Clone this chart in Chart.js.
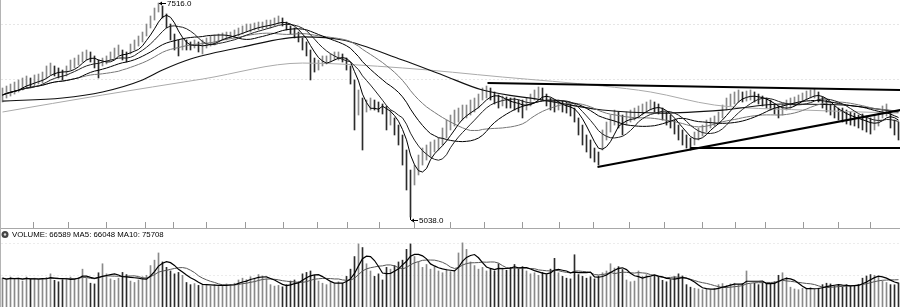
<!DOCTYPE html>
<html>
<head>
<meta charset="utf-8">
<script src="https://cdn.jsdelivr.net/npm/chart.js@4.4.1/dist/chart.umd.min.js"></script>
<style>
  html, body { margin: 0; padding: 0; background: #fff; }
  #wrap { position: relative; width: 900px; height: 307px; overflow: hidden; }
  #price { position: absolute; left: 0; top: 0; }
  #volume { position: absolute; left: 0; top: 222px; }
</style>
</head>
<body>
<div id="wrap">
  <canvas id="price" width="900" height="228"></canvas>
  <canvas id="volume" width="900" height="85"></canvas>
</div>
<script>
// daily bars
const highs = [
  6532, 6555, 6578, 6601, 6625, 6648, 6671, 6648, 6683, 6694,
  6717, 6787, 6821, 6787, 6764, 6740, 6787, 6856, 6879, 6914,
  6949, 6972, 6949, 6903, 6856, 6879, 6903, 6949, 6995, 7030,
  6972, 6949, 7041, 7088, 7134, 7180, 7273, 7366, 7458, 7516,
  7482, 7389, 7273, 7157, 7088, 7111, 7088, 7065, 7088, 7065,
  7088, 7111, 7134, 7146, 7157, 7169, 7180, 7180, 7204, 7227,
  7250, 7273, 7273, 7285, 7296, 7296, 7319, 7319, 7343, 7366,
  7343, 7296, 7250, 7227, 7180, 7111, 7065, 6972, 6879, 6856,
  6903, 6903, 6926, 6949, 6949, 6926, 6879, 6787, 6625, 6509,
  6416, 6393, 6416, 6393, 6370, 6347, 6324, 6277, 6185, 6103,
  5988, 5814, 5582, 5640, 5756, 5837, 5872, 5907, 5930, 5953,
  6069, 6161, 6219, 6277, 6300, 6335, 6335, 6393, 6416, 6462,
  6532, 6555, 6532, 6486, 6451, 6439, 6428, 6416, 6416, 6393,
  6393, 6416, 6462, 6509, 6544, 6532, 6462, 6416, 6393, 6393,
  6381, 6370, 6347, 6300, 6185, 6103, 5988, 5930, 5837, 5791,
  6046, 6138, 6219, 6277, 6254, 6219, 6254, 6277, 6300, 6324,
  6347, 6370, 6393, 6370, 6347, 6300, 6254, 6219, 6161, 6103,
  6046, 5988, 5953, 6022, 6069, 6103, 6161, 6185, 6208, 6254,
  6335, 6416, 6462, 6486, 6509, 6486, 6497, 6509, 6486, 6462,
  6439, 6416, 6393, 6347, 6324, 6347, 6393, 6416, 6428, 6451,
  6474, 6497, 6509, 6520, 6486, 6428, 6393, 6347, 6324, 6300,
  6300, 6277, 6254, 6242, 6219, 6231, 6208, 6185, 6219, 6254,
  6324, 6347, 6254, 6161, 6138
];
const lows = [
  6370, 6416, 6439, 6462, 6486, 6509, 6532, 6532, 6555, 6578,
  6590, 6648, 6683, 6671, 6648, 6625, 6671, 6740, 6764, 6798,
  6833, 6856, 6833, 6764, 6648, 6787, 6810, 6856, 6879, 6914,
  6856, 6833, 6926, 6972, 7018, 7065, 7134, 7227, 7319, 7412,
  7343, 7227, 7088, 6972, 6903, 6972, 6972, 6972, 6995, 6949,
  6926, 6995, 7018, 7030, 7065, 7088, 7088, 7111, 7111, 7134,
  7157, 7180, 7180, 7204, 7204, 7215, 7227, 7227, 7250, 7273,
  7250, 7204, 7157, 7111, 7065, 6972, 6903, 6625, 6717, 6740,
  6787, 6810, 6833, 6856, 6856, 6833, 6740, 6578, 6046, 6219,
  5814, 6254, 6277, 6277, 6254, 6231, 6046, 6103, 5988, 5872,
  5640, 5351, 5038, 5409, 5525, 5640, 5698, 5733, 5791, 5814,
  5872, 5953, 6046, 6092, 6138, 6161, 6185, 6219, 6254, 6300,
  6393, 6416, 6393, 6347, 6300, 6324, 6300, 6300, 6277, 6254,
  6185, 6277, 6324, 6393, 6416, 6393, 6324, 6277, 6254, 6277,
  6254, 6242, 6208, 6138, 5988, 5872, 5791, 5721, 5675, 5640,
  5814, 5930, 6022, 6103, 6069, 5988, 6103, 6138, 6161, 6185,
  6219, 6254, 6277, 6254, 6231, 6161, 6103, 6069, 5999, 5930,
  5872, 5837, 5814, 5872, 5930, 5976, 6022, 6069, 6092, 6115,
  6185, 6277, 6324, 6347, 6370, 6370, 6381, 6393, 6370, 6347,
  6324, 6300, 6277, 6231, 6185, 6219, 6277, 6300, 6324, 6347,
  6370, 6393, 6416, 6416, 6370, 6300, 6254, 6219, 6185, 6161,
  6138, 6115, 6103, 6092, 6069, 6046, 6022, 5999, 6046, 6092,
  6185, 6208, 6069, 5988, 5930
];
const volumes = [
  80000, 75000, 83000, 78000, 80000, 72000, 83000, 77000, 80000, 75000,
  78000, 82000, 92000, 74000, 70000, 76000, 80000, 83000, 78000, 82000,
  105000, 80000, 66000, 64000, 95000, 120000, 92000, 78000, 74000, 80000,
  96000, 90000, 72000, 68000, 75000, 84000, 88000, 115000, 130000, 150000,
  125000, 110000, 100000, 92000, 96000, 88000, 68000, 62000, 65000, 60000,
  60000, 63000, 58000, 62000, 57000, 60000, 64000, 62000, 66000, 75000,
  80000, 76000, 84000, 80000, 90000, 86000, 78000, 62000, 58000, 60000,
  56000, 62000, 72000, 75000, 70000, 92000, 96000, 100000, 88000, 72000,
  66000, 62000, 68000, 64000, 70000, 66000, 85000, 105000, 140000, 175000,
  165000, 120000, 100000, 85000, 92000, 75000, 110000, 105000, 115000, 125000,
  130000, 160000, 175000, 140000, 125000, 110000, 118000, 105000, 112000, 100000,
  95000, 105000, 98000, 102000, 150000, 178000, 160000, 125000, 115000, 105000,
  110000, 100000, 105000, 100000, 120000, 108000, 102000, 110000, 118000, 105000,
  112000, 100000, 92000, 95000, 88000, 96000, 90000, 105000, 135000, 95000,
  85000, 80000, 78000, 145000, 90000, 85000, 80000, 84000, 78000, 86000,
  95000, 100000, 120000, 108000, 112000, 104000, 75000, 70000, 72000, 100000,
  85000, 90000, 82000, 88000, 84000, 74000, 70000, 76000, 84000, 92000,
  86000, 62000, 55000, 52000, 50000, 48000, 50000, 47000, 52000, 62000,
  65000, 60000, 64000, 66000, 62000, 65000, 100000, 64000, 66000, 62000,
  68000, 65000, 63000, 70000, 88000, 95000, 82000, 55000, 50000, 48000,
  52000, 50000, 54000, 49000, 52000, 62000, 66000, 64000, 58000, 60000,
  56000, 62000, 58000, 60000, 63000, 80000, 86000, 90000, 88000, 82840,
  72000, 68000, 62000, 61651, 66589
];

// month separators on the time axis (bar index units)
const monthTicks = [12, 20.75, 31.25, 40, 45.5, 56.5, 65, 75.5, 82, 90.25, 98.25, 107.5,
  116.25, 124.5, 135.25, 143.25, 152.25, 161, 169.75, 180, 186.25, 195, 205.25, 212.75, 221.25];

// long averages, read as [bar index, price]
const ma60Points = [[0, 6381], [15, 6416], [25, 6486], [35, 6625], [40, 6740], [47, 6868],
  [60, 7007], [75, 7123], [85, 7088], [100, 6856], [110, 6683], [120, 6509], [135, 6393],
  [150, 6277], [165, 6242], [180, 6277], [195, 6347], [210, 6335], [224, 6254]];
const ma250Points = [[0, 6254], [25, 6451], [50, 6636], [75, 6821], [100, 6764], [125, 6659],
  [150, 6555], [162, 6486], [178, 6335], [200, 6277], [224, 6242]];

// hand drawn trend lines [bar index, price]
const resistance = [[121.25, 6590], [224.5, 6509]];
const support = [[148.75, 5617], [224.5, 6277]];
const floorLine = [[172, 5837], [224.5, 5837]];

const gridPrices = [7273, 6625];
const gridVolumes = [88800, 177600];

const PRICE_MIN = 4911;
const PRICE_MAX = 7551;
const VOL_MAX = 219225;
const FONT = '"Liberation Sans", Arial, sans-serif';

const mids = highs.map((h, i) => (h + lows[i]) / 2);

function sma(arr, n) {
  return arr.map((_, i) => {
    const w = arr.slice(Math.max(0, i - n + 1), i + 1);
    return w.reduce((a, b) => a + b, 0) / w.length;
  });
}

const toPoints = (arr) => arr.map((v, i) => ({ x: i, y: v }));
const fromPairs = (arr) => arr.map(([x, y]) => ({ x, y }));
const barColors = mids.map((m, i) => (i === 0 || m >= mids[i - 1] ? '#8a8a8a' : '#2c2c2c'));

function line(data, color, width, extra = {}) {
  return {
    type: 'line',
    data,
    borderColor: color,
    borderWidth: width,
    pointRadius: 0,
    fill: false,
    order: 1,
    ...extra,
  };
}

const volMa5 = sma(volumes, 5);
const volMa10 = sma(volumes, 10);

const extremeLabels = {
  id: 'extremeLabels',
  afterDatasetsDraw(chart) {
    const { ctx, scales: { x, y } } = chart;
    const iMax = highs.indexOf(Math.max(...highs));
    const iMin = lows.indexOf(Math.min(...lows));
    ctx.save();
    ctx.strokeStyle = '#000';
    ctx.fillStyle = '#000';
    ctx.lineWidth = 1;
    ctx.font = '8px ' + FONT;
    ctx.textBaseline = 'middle';
    const arrow = (px, py, label) => {
      ctx.beginPath();
      ctx.moveTo(px + 1, py);
      ctx.lineTo(px + 8, py);
      ctx.stroke();
      ctx.beginPath();
      ctx.moveTo(px + 1, py);
      ctx.lineTo(px + 4, py - 2);
      ctx.lineTo(px + 4, py + 2);
      ctx.closePath();
      ctx.fill();
      ctx.fillText(label, px + 9, py + 0.5);
    };
    const hx = Math.floor(x.getPixelForValue(iMax));
    const hy = Math.round(y.getPixelForValue(highs[iMax])) + 0.5;
    arrow(hx, hy, highs[iMax].toFixed(1));

    const lx = Math.floor(x.getPixelForValue(iMin));
    const ly = Math.round(y.getPixelForValue(lows[iMin]));
    ctx.beginPath();
    ctx.moveTo(lx + 0.5, ly);
    ctx.lineTo(lx + 0.5, ly + 3);
    ctx.stroke();
    arrow(lx, ly + 3.5, lows[iMin].toFixed(1));
    ctx.restore();
  },
};

const volumeLegend = {
  id: 'volumeLegend',
  afterDraw(chart) {
    const { ctx, chartArea } = chart;
    const n = volumes.length;
    const cy = chartArea.top + 6.5;
    ctx.save();
    ctx.fillStyle = '#444';
    ctx.beginPath();
    ctx.arc(5, cy, 3.5, 0, Math.PI * 2);
    ctx.fill();
    ctx.fillStyle = '#ddd';
    ctx.beginPath();
    ctx.arc(5, cy, 1.2, 0, Math.PI * 2);
    ctx.fill();
    ctx.fillStyle = '#000';
    ctx.font = '7.8px ' + FONT;
    ctx.textBaseline = 'middle';
    const text = `VOLUME: ${volumes[n - 1]} MA5: ${Math.round(volMa5[n - 1])} MA10: ${Math.round(volMa10[n - 1])}`;
    ctx.fillText(text, 12, cy + 0.5);
    ctx.restore();
  },
};

// 4 px per bar, bar centres on pixel centres
const xRange = { type: 'linear', min: -0.625, max: highs.length - 0.625, offset: false };

new Chart(document.getElementById('price'), {
  type: 'bar',
  data: {
    datasets: [
      line(fromPairs(resistance), '#000', 2, { order: 0 }),
      line(fromPairs(support), '#000', 2, { order: 0 }),
      line(fromPairs(floorLine), '#000', 2, { order: 0 }),
      line(toPoints(sma(mids, 5)), '#000', 1),
      line(toPoints(sma(mids, 10)), '#222', 1),
      line(toPoints(sma(mids, 20)), '#000', 1),
      line(toPoints(sma(mids, 30)), '#777', 1),
      line(fromPairs(ma60Points), '#111', 1.2, { cubicInterpolationMode: 'monotone' }),
      line(fromPairs(ma250Points), '#aaa', 1, { cubicInterpolationMode: 'monotone' }),
      {
        type: 'bar',
        data: highs.map((h, i) => ({ x: i, y: [lows[i], h] })),
        backgroundColor: barColors,
        barThickness: 1,
        borderWidth: 0,
        order: 5,
      },
    ],
  },
  options: {
    responsive: false,
    devicePixelRatio: 1,
    animation: false,
    layout: { padding: 0, autoPadding: false },
    plugins: { legend: { display: false }, tooltip: { enabled: false } },
    scales: {
      x: { ...xRange, display: false },
      y: {
        min: PRICE_MIN,
        max: PRICE_MAX,
        afterBuildTicks: (s) => { s.ticks = gridPrices.map((v) => ({ value: v })); },
        ticks: { display: false },
        grid: { color: '#e6e6e6', drawTicks: false },
        border: { display: true, color: '#b4b4b4', dash: [2, 2] },
      },
    },
  },
  plugins: [extremeLabels],
});

new Chart(document.getElementById('volume'), {
  type: 'bar',
  data: {
    datasets: [
      line(toPoints(volMa5), '#000', 1.2),
      line(toPoints(volMa10), '#555', 1),
      {
        type: 'bar',
        data: toPoints(volumes),
        backgroundColor: barColors,
        barThickness: 1,
        borderWidth: 0,
        order: 5,
      },
    ],
  },
  options: {
    responsive: false,
    devicePixelRatio: 1,
    animation: false,
    layout: { padding: 0, autoPadding: false },
    plugins: { legend: { display: false }, tooltip: { enabled: false } },
    scales: {
      x: {
        ...xRange,
        position: 'top',
        afterBuildTicks: (s) => { s.ticks = monthTicks.map((v) => ({ value: v })); },
        ticks: { display: false },
        grid: { drawOnChartArea: false, drawTicks: true, tickLength: 6, color: '#9a9a9a' },
        border: { display: true, color: '#a8a8a8' },
      },
      y: {
        min: 0,
        max: VOL_MAX,
        afterBuildTicks: (s) => { s.ticks = gridVolumes.map((v) => ({ value: v })); },
        ticks: { display: false },
        grid: { color: '#ececec', drawTicks: false },
        border: { display: true, color: '#b4b4b4', dash: [2, 2] },
      },
    },
  },
  plugins: [volumeLegend],
});
</script>
</body>
</html>
